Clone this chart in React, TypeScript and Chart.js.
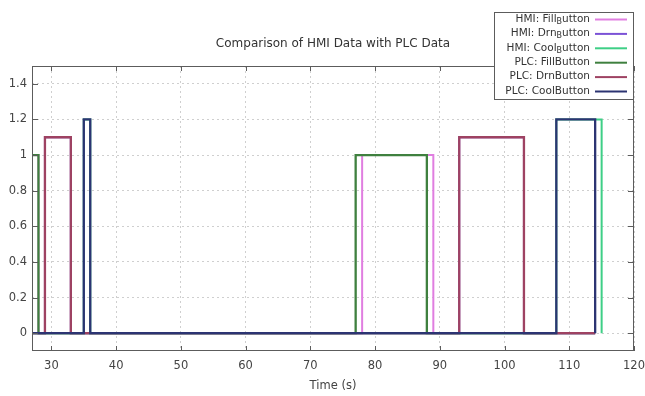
import React, { useEffect, useRef } from 'react';
import { Chart, registerables } from 'chart.js';

Chart.register(...registerables);

// ---- data (time in seconds, value held until next time) ----
const hmiFillTime = [27, 28, 78, 89, 114];
const hmiFillValue = [1, 0, 1, 0, 0];
const hmiDrnTime = [27, 29, 33, 93, 103, 114];
const hmiDrnValue = [0, 1.1, 0, 1.1, 0, 0];
const hmiCoolTime = [27, 35, 36, 108, 115];
const hmiCoolValue = [0, 1.2, 0, 1.2, 0];
const plcFillTime = [27, 28, 77, 88, 114];
const plcFillValue = [1, 0, 1, 0, 0];
const plcDrnTime = [27, 29, 33, 93, 103, 114];
const plcDrnValue = [0, 1.1, 0, 1.1, 0, 0];
const plcCoolTime = [27, 35, 36, 108, 114];
const plcCoolValue = [0, 1.2, 0, 1.2, 0];

const seriesLabels = [
  'HMI: Fill_Button',
  'HMI: Drn_Button',
  'HMI: Cool_Button',
  'PLC: FillButton',
  'PLC: DrnButton',
  'PLC: CoolButton',
];
const seriesColors = ['#e07ee0', '#7b52d6', '#3ecf86', '#3f803f', '#9e4262', '#2c3472'];
const seriesWidths = [2, 2, 2, 2.3, 2.3, 2.3];

const xTickValues = [30, 40, 50, 60, 70, 80, 90, 100, 110, 120];
const yTickValues = [0, 0.2, 0.4, 0.6, 0.8, 1, 1.2, 1.4];

const chartTitle = 'Comparison of HMI Data with PLC Data';
const xAxisTitle = 'Time (s)';

const FONT = '"DejaVu Sans", Verdana, sans-serif';

function drawEnhanced(ctx: CanvasRenderingContext2D, text: string, xRight: number, y: number) {
  // gnuplot enhanced text: character after "_" is a subscript
  const parts: { t: string; sub: boolean }[] = [];
  let i = 0;
  let buf = '';
  while (i < text.length) {
    if (text[i] === '_' && i + 1 < text.length) {
      if (buf) parts.push({ t: buf, sub: false });
      buf = '';
      parts.push({ t: text[i + 1], sub: true });
      i += 2;
    } else {
      buf += text[i];
      i++;
    }
  }
  if (buf) parts.push({ t: buf, sub: false });
  const normal = `10.5px ${FONT}`;
  const small = `8px ${FONT}`;
  let total = 0;
  for (const p of parts) {
    ctx.font = p.sub ? small : normal;
    total += ctx.measureText(p.t).width;
  }
  let x = xRight - total;
  ctx.textAlign = 'left';
  ctx.textBaseline = 'middle';
  for (const p of parts) {
    ctx.font = p.sub ? small : normal;
    ctx.fillText(p.t, x, p.sub ? y + 3 : y);
    x += ctx.measureText(p.t).width;
  }
}

const decorPlugin = {
  id: 'decor',
  beforeDraw(chart: any) {
    const ctx = chart.ctx;
    ctx.save();
    ctx.fillStyle = '#ffffff';
    ctx.fillRect(0, 0, chart.width, chart.height);
    ctx.restore();
  },
  afterDatasetsDraw(chart: any) {
    const ctx: CanvasRenderingContext2D = chart.ctx;
    const { left, right, top, bottom } = chart.chartArea;
    const xs = chart.scales.x;
    const ys = chart.scales.y;
    ctx.save();
    ctx.strokeStyle = '#5c5c5c';
    ctx.lineWidth = 1;
    ctx.beginPath();
    for (const t of xs.ticks) {
      const px = Math.round(xs.getPixelForValue(t.value)) + 0.5;
      ctx.moveTo(px, bottom);
      ctx.lineTo(px, bottom - 5);
      ctx.moveTo(px, top);
      ctx.lineTo(px, top + 5);
    }
    for (const t of ys.ticks) {
      const py = Math.round(ys.getPixelForValue(t.value)) + 0.5;
      ctx.moveTo(left, py);
      ctx.lineTo(left + 6, py);
      ctx.moveTo(right, py);
      ctx.lineTo(right - 6, py);
    }
    ctx.stroke();
    ctx.strokeRect(Math.round(left) + 0.5, Math.round(top) + 0.5, Math.round(right - left) - 1, Math.round(bottom - top) - 1);

    // title
    ctx.fillStyle = '#333333';
    ctx.font = `12px ${FONT}`;
    ctx.textAlign = 'center';
    ctx.textBaseline = 'middle';
    ctx.fillText(chartTitle, 333, 44);

    // x axis title
    ctx.font = `11.5px ${FONT}`;
    ctx.fillStyle = '#444444';
    ctx.fillText(xAxisTitle, (left + right) / 2, 386);

    // legend
    const bx = 494, by = 12, bw = 139, bh = 87;
    ctx.fillStyle = '#ffffff';
    ctx.fillRect(bx, by, bw, bh);
    ctx.strokeStyle = '#5c5c5c';
    ctx.strokeRect(bx + 0.5, by + 0.5, bw, bh);
    chart.data.datasets.forEach((ds: any, i: number) => {
      const ry = 19 + i * 14.4;
      ctx.fillStyle = '#333333';
      drawEnhanced(ctx, ds.label, 590, ry);
      ctx.strokeStyle = ds.borderColor;
      ctx.lineWidth = 2;
      ctx.beginPath();
      ctx.moveTo(595, ry + 0.5);
      ctx.lineTo(627, ry + 0.5);
      ctx.stroke();
    });
    ctx.restore();
  },
};

function buildPoints(t: number[], v: number[]) {
  return t.map((x, i) => ({ x, y: v[i] }));
}

export default function App() {
  const ref = useRef<HTMLCanvasElement | null>(null);
  useEffect(() => {
    if (!ref.current) return;
    const series = [
      [hmiFillTime, hmiFillValue],
      [hmiDrnTime, hmiDrnValue],
      [hmiCoolTime, hmiCoolValue],
      [plcFillTime, plcFillValue],
      [plcDrnTime, plcDrnValue],
      [plcCoolTime, plcCoolValue],
    ];
    const chart = new Chart(ref.current, {
      type: 'line',
      data: {
        datasets: series.map(([t, v], i) => ({
          label: seriesLabels[i],
          data: buildPoints(t, v),
          borderColor: seriesColors[i],
          backgroundColor: seriesColors[i],
          borderWidth: seriesWidths[i],
          stepped: true,
          pointRadius: 0,
          fill: false,
          order: 5 - i,
        })),
      },
      options: {
        responsive: false,
        animation: false,
        events: [],
        layout: { padding: { top: 66, right: 11, left: 0, bottom: 0 } },
        plugins: {
          legend: { display: false },
          title: { display: false },
          tooltip: { enabled: false },
        },
        scales: {
          x: {
            type: 'linear',
            min: 27,
            max: 120,
            afterFit: (s: any) => { s.height = 45; s.paddingLeft = 0; s.paddingRight = 0; },
            afterBuildTicks: (s: any) => { s.ticks = xTickValues.map((value) => ({ value })); },
            grid: { color: '#cfcfcf', drawTicks: false, lineWidth: 1 },
            border: { display: false, dash: [2, 3] },
            ticks: {
              padding: 8,
              maxRotation: 0,
              autoSkip: false,
              color: '#444444',
              font: { family: FONT, size: 11.5 },
              callback: (v: any) => String(v),
            },
          },
          y: {
            type: 'linear',
            min: -0.1,
            max: 1.5,
            afterFit: (s: any) => { s.width = 32; s.paddingTop = 0; s.paddingBottom = 0; },
            afterBuildTicks: (s: any) => { s.ticks = yTickValues.map((value) => ({ value })); },
            grid: { color: '#cfcfcf', drawTicks: false, lineWidth: 1 },
            border: { display: false, dash: [2, 3] },
            ticks: {
              padding: 5,
              autoSkip: false,
              color: '#444444',
              font: { family: FONT, size: 11.5 },
              callback: (v: any) => String(Number(Number(v).toFixed(1))),
            },
          },
        },
      },
      plugins: [decorPlugin],
    });
    return () => chart.destroy();
  }, []);
  return (
    <div style={{ position: 'absolute', left: 0, top: 0, width: 645, height: 396 }}>
      <canvas ref={ref} width={645} height={396} style={{ display: 'block' }} />
    </div>
  );
}
